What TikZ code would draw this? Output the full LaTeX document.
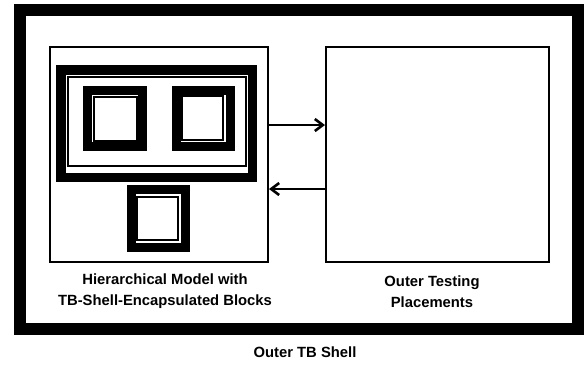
\documentclass[tikz,border=0pt]{standalone}
\usepackage{fontspec}
\setmainfont{Liberation Sans}
\usetikzlibrary{arrows.meta}
\begin{document}
\begin{tikzpicture}[x=1pt, y=-1pt,
    every node/.style={font=\fontsize{14.8}{21}\selectfont\bfseries},
    panel/.style={draw, line width=2pt, inner sep=0pt},
    wall/.style={line width=9pt},
    liner/.style={line width=2.4pt},
    flow/.style={line width=2pt, -{Straight Barb[length=8pt, width=12pt, line width=2.6pt]}}]
  \useasboundingbox (0,0) rectangle (585,365);
  % outer TB shell
  \draw[line width=12pt] (19.5,9.5) rectangle (577.5,329);
  \node[panel, minimum width=218pt, minimum height=215pt] (model) at (159,154.5) {};
  \node[panel, minimum width=223pt, minimum height=215pt] (placements) at (437.5,154.5) {};
  % encapsulated blocks
  \draw[line width=9.5pt] (60.75,69.75) rectangle (252.25,177.25);
  \draw[liner] (68,77) rectangle (246,166);
  \draw[wall] (87.5,90.5) rectangle (142.5,146.5);
  \draw[liner] (94,97) rectangle (137,141);
  \draw[wall] (176.5,90.5) rectangle (230.5,146.5);
  \draw[liner] (182,96) rectangle (223,140);
  \draw[wall] (131.5,189.5) rectangle (185.5,247.5);
  \draw[liner] (137,197) rectangle (178,240);
  % connectors
  \draw[flow] ([yshift=29.5pt]model.east) -- ([yshift=29.5pt]placements.west);
  \draw[flow] ([yshift=-34.5pt]placements.west) -- ([yshift=-34.5pt]model.east);
  \node[align=center] (modellabel) at (165,291.5) {Hierarchical Model with\\TB-Shell-Encapsulated Blocks};
  \node[align=center] (placelabel) at (432,291.5) {Outer Testing\\Placements};
  \node (shelllabel) at (305,352.5) {Outer TB Shell};
\end{tikzpicture}
\end{document}
